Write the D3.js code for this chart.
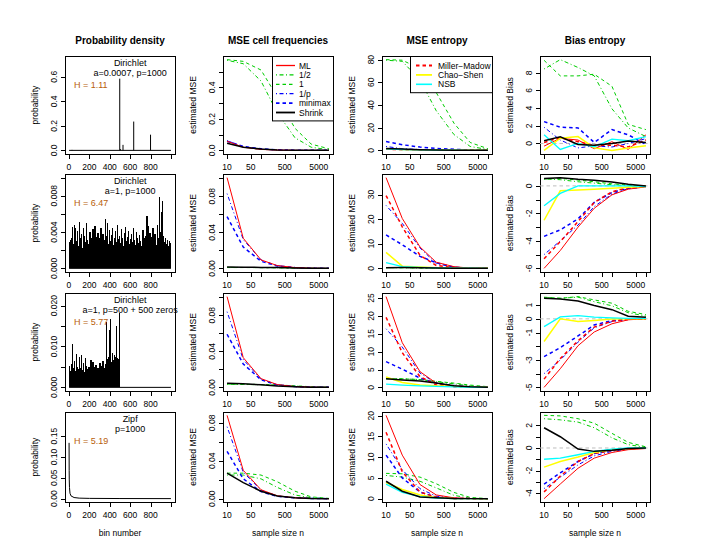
<!DOCTYPE html>
<html><head><meta charset="utf-8">
<script src="https://cdn.jsdelivr.net/npm/d3@7"></script>
<style>body{margin:0;background:#fff} text{font-family:"Liberation Sans",Arial,sans-serif}</style>
</head><body><svg id="c" width="713" height="539"></svg>
<script>
// ---------------- DATA ----------------
const sampleSizes = [10,30,100,300,1000,3000,10000];
const nTicks = [10,50,100,500,1000,5000,10000];
const nTickLabels = [10,50,500,5000];
const binTicks = [0,200,400,600,800,1000];
const binTickLabels = [0,200,400,600,800];
const colTitles = ["Probability density","MSE cell frequencies","MSE entropy","Bias entropy"];

// column 1 : densities
const spikeBinsR1 = [30,120,498,505,530,635,800];
const spikeValsR1 = [0.004,0.003,0.585,0.01,0.045,0.235,0.128];
const densR2 = [0.0029,0.0031,0.0034,0.0046,0.0027,0.0048,0.0044,0.0030,0.0041,0.0025,
  0.0051,0.0033,0.0038,0.0022,0.0045,0.0036,0.0029,0.0050,0.0031,0.0027,
  0.0040,0.0034,0.0024,0.0043,0.0030,0.0047,0.0028,0.0035,0.0039,0.0026,
  0.0033,0.0044,0.0029,0.0038,0.0031,0.0054,0.0036,0.0050,0.0027,0.0042,
  0.0030,0.0037,0.0045,0.0026,0.0034,0.0041,0.0029,0.0048,0.0032,0.0036,
  0.0028,0.0043,0.0033,0.0025,0.0039,0.0046,0.0030,0.0035,0.0041,0.0027,
  0.0032,0.0038,0.0029,0.0044,0.0031,0.0026,0.0040,0.0034,0.0028,0.0037,
  0.0030,0.0025,0.0042,0.0033,0.0029,0.0036,0.0058,0.0047,0.0031,0.0039,
  0.0027,0.0035,0.0044,0.0030,0.0038,0.0026,0.0048,0.0034,0.0079,0.0040,
  0.0062,0.0074,0.0036,0.0029,0.0033,0.0027,0.0031,0.0025,0.0030,0.0028];
const densR3 = [0.0052,0.0041,0.0058,0.0106,0.0047,0.0064,0.0039,0.0082,0.0051,0.0044,
  0.0075,0.0048,0.0080,0.0043,0.0060,0.0038,0.0071,0.0052,0.0046,0.0050,
  0.0041,0.0068,0.0045,0.0062,0.0037,0.0049,0.0055,0.0040,0.0047,0.0043,
  0.0060,0.0044,0.0052,0.0065,0.0048,0.0058,0.0160,0.0070,0.0075,0.0140,
  0.0167,0.0062,0.0085,0.0068,0.0078,0.0074,0.0150,0.0072,0.0069,0.0181];
const zipfBins = [1,2,3,5,10,20,50,100,200,500,1000];
const zipfVals = [0.134,0.067,0.045,0.027,0.013,0.0067,0.0027,0.0013,0.0007,0.0003,0.00013];
const densYMax = [0.74,0.0100,0.0222,0.2];
const densText = [["Dirichlet","a=0.0007, p=1000","H = 1.11"],
                  ["Dirichlet","a=1, p=1000","H = 6.47"],
                  ["Dirichlet","a=1, p=500 + 500 zeros","H = 5.77"],
                  ["Zipf","p=1000","H = 5.19"]];

// column 2 : MSE cell frequencies
const freqR1 = {ML:[0.058,0.02,0.006,0.002,0.0006,0.0002,0.00006],
  half:[0.572,0.55,0.44,0.24,0.08,0.02,0.004], one:[0.576,0.565,0.51,0.34,0.14,0.04,0.01],
  invp:[0.062,0.022,0.007,0.002,0.0007,0.0002,0.00007], minimax:[0.058,0.025,0.010,0.004,0.0012,0.0004,0.0001],
  shrink:[0.045,0.02,0.008,0.003,0.001,0.0003,0.0001]};
const freqR2 = {ML:[0.1007,0.0335,0.0095,0.0032,0.001,0.0003,0.0001],
  half:[0.0012,0.0011,0.001,0.0008,0.0005,0.0002,0.0001], one:[0.001,0.001,0.0009,0.0007,0.0005,0.0002,0.0001],
  invp:[0.083,0.032,0.0095,0.003,0.001,0.0003,0.0001], minimax:[0.0575,0.0237,0.008,0.0028,0.001,0.0003,0.0001],
  shrink:[0.0015,0.0014,0.0012,0.001,0.0006,0.0003,0.0001]};
const freqR3 = {ML:[0.1007,0.033,0.0098,0.0032,0.001,0.0003,0.0001],
  half:[0.0035,0.0033,0.003,0.0025,0.0015,0.0007,0.0002], one:[0.0038,0.0036,0.0033,0.0028,0.0018,0.0008,0.0003],
  invp:[0.084,0.031,0.009,0.003,0.001,0.0003,0.0001], minimax:[0.059,0.026,0.0085,0.0028,0.001,0.0003,0.0001],
  shrink:[0.0047,0.004,0.003,0.0017,0.0008,0.0003,0.0001]};
const freqR4 = {ML:[0.088,0.03,0.0095,0.0032,0.001,0.0003,0.0001],
  half:[0.025,0.025,0.021,0.012,0.004,0.001,0.0002], one:[0.027,0.027,0.025,0.018,0.008,0.002,0.0004],
  invp:[0.076,0.028,0.009,0.003,0.001,0.0003,0.0001], minimax:[0.05,0.021,0.0075,0.0026,0.0009,0.0003,0.0001],
  shrink:[0.027,0.017,0.008,0.003,0.001,0.0003,0.0001]};

// column 3 : MSE entropy
const entR1 = {ML:[1.2,0.8,0.5,0.3,0.2,0.1,0.05], half:[79.5,78.5,62,35,14,3.5,0.8], one:[80,79.5,72,51,24,7,1.5],
  invp:[3.5,1.5,0.8,0.5,0.3,0.2,0.1], minimax:[7.9,5,3,1.8,1,0.5,0.2], MM:[1.0,0.7,0.5,0.3,0.2,0.1,0.05],
  CS:[1.5,0.8,0.6,0.3,0.2,0.1,0.05], NSB:[1.3,0.8,0.4,0.3,0.2,0.1,0.05], shrink:[1.8,1.2,0.6,0.3,0.2,0.1,0.05]};
const entR2 = {ML:[36.9,20.3,8.7,2.5,0.7,0.1,0.02], half:[0.28,0.25,0.15,0.1,0.05,0.02,0.01], one:[0.3,0.3,0.2,0.1,0.05,0.02,0.01],
  invp:[25.6,18.3,8.3,2.0,0.5,0.1,0.02], minimax:[13.6,9.6,4.9,2.3,0.5,0.1,0.02], MM:[29.6,16.9,5.3,1.2,0.3,0.05,0.01],
  CS:[6.5,0.9,0.6,0.3,0.1,0.05,0.01], NSB:[2.3,0.7,0.4,0.2,0.1,0.05,0.01], shrink:[0.3,0.35,0.25,0.15,0.08,0.03,0.01]};
const entR3 = {ML:[25.4,12.5,4.4,1.2,0.3,0.05,0.01], half:[2.5,2.4,2.2,1.6,1.0,0.4,0.1], one:[2.4,2.4,2.2,1.7,1.2,0.65,0.2],
  invp:[16.4,11.3,4.0,1.2,0.3,0.05,0.01], minimax:[7.2,5.1,2.6,1.2,0.5,0.1,0.02], MM:[19.6,9.7,3.0,0.7,0.2,0.05,0.01],
  CS:[2.9,1.4,0.7,0.45,0.3,0.1,0.02], NSB:[0.9,0.65,0.45,0.3,0.15,0.05,0.01], shrink:[2.4,2.1,1.8,1.2,0.45,0.2,0.05]};
const entR4 = {ML:[20.1,10.5,3.4,0.9,0.2,0.03,0.005], half:[5.6,5.2,4.2,2.6,0.8,0.1,0.01], one:[6.1,6.0,5.2,3.6,1.5,0.3,0.02],
  invp:[13.2,7,2.4,0.6,0.12,0.02,0], minimax:[10.5,5,1.6,0.35,0.06,0.01,0], MM:[16,6.5,1.6,0.35,0.06,0.01,0],
  CS:[3.9,2.2,0.9,0.25,0.04,0.01,0], NSB:[3.5,1.5,0.5,0.15,0.03,0.01,0], shrink:[4.2,1.8,0.4,0.2,0.05,0.01,0]};

// column 4 : Bias entropy
const biasR1 = {ML:[-0.3,0.59,0.39,-0.59,0.2,-0.67,0.98], half:[8.43,9.49,8.6,7.65,3.92,1.76,0.78], one:[9.41,7.65,7.65,7.84,6.47,2.16,1.57],
  invp:[1.84,0.39,-0.5,-0.27,-0.4,0,0.55], minimax:[2.47,1.84,1.76,0.12,1.57,0.98,-0.12], MM:[0.12,0.67,0.2,-0.2,-0.2,-0.39,0.39],
  CS:[-0.78,0.59,0.78,-0.5,-0.78,-0.5,-0.27], NSB:[0.98,-0.67,0,-0.39,0.5,0.31,0.78], shrink:[0.31,0.75,-0.12,-0.2,0,0.27,0.12]};
const biasR2 = {ML:[-6.0,-4.7,-3.0,-1.63,-0.65,-0.24,-0.07], half:[0.5,0.45,0.3,0.2,0.08,0.03,0], one:[0.5,0.55,0.42,0.3,0.15,0.06,0],
  invp:[-5.0,-4.0,-2.85,-1.5,-0.6,-0.2,-0.05], minimax:[-3.67,-3.2,-2.4,-1.2,-0.48,-0.17,-0.05], MM:[-5.3,-4.05,-2.6,-1.2,-0.43,-0.12,-0.05],
  CS:[-2.5,-0.36,-0.3,-0.24,-0.17,-0.1,-0.05], NSB:[-1.44,-0.55,0,0,0,0,-0.05], shrink:[0.53,0.6,0.48,0.41,0.29,0.12,0]};
const biasR3 = {ML:[-5.0,-3.64,-1.96,-0.96,-0.36,-0.07,0], half:[1.55,1.5,1.58,1.25,0.95,0.45,0.2], one:[1.58,1.5,1.62,1.38,1.14,0.55,0.31],
  invp:[-4.0,-3.0,-1.7,-0.65,-0.2,-0.05,0], minimax:[-2.76,-2.1,-1.25,-0.45,-0.12,-0.03,0], MM:[-4.4,-2.9,-1.6,-0.6,-0.17,-0.04,0],
  CS:[-1.65,0,-0.2,-0.12,-0.02,0,0], NSB:[-0.57,0.14,0.24,0.12,0.07,0.03,0.03], shrink:[1.5,1.45,1.3,0.98,0.67,0.19,0.12]};
const biasR4 = {ML:[-4.5,-3.2,-1.8,-0.9,-0.4,-0.15,-0.05], half:[2.6,2.5,2.3,1.8,0.9,0.3,0.05], one:[2.9,2.85,2.6,2.2,1.3,0.5,0.1],
  invp:[-3.6,-2.6,-1.5,-0.7,-0.3,-0.1,0], minimax:[-3.2,-2.2,-1.2,-0.5,-0.2,-0.05,0], MM:[-3.9,-2.5,-1.2,-0.5,-0.2,-0.05,0],
  CS:[-1.7,-1.2,-0.8,-0.4,-0.15,-0.05,0], NSB:[-1,-0.9,-0.6,-0.3,-0.1,0,0], shrink:[1.8,1.0,-0.1,-0.3,-0.2,-0.05,0]};

// y ticks (values and labels)
const yTicksCol1 = [[0,0.2,0.4,0.6],[0,0.002,0.004,0.006,0.008,0.010],[0,0.005,0.010,0.015,0.020],[0,0.05,0.10,0.15]];
const yLabelsCol1 = [["0.0","0.2","0.4","0.6"],["0.000","","0.004","","0.008",""],["0.000","","0.010","","0.020"],["0.00","0.05","0.10","0.15"]];
const yTicksCol2 = [[0,0.1,0.2,0.3,0.4,0.5],[0,0.02,0.04,0.06,0.08,0.10],[0,0.02,0.04,0.06,0.08,0.10],[0,0.02,0.04,0.06,0.08]];
const yLabelsCol2 = [["0.0","","0.2","","0.4",""],["0.00","","0.04","","0.08",""],["0.00","","0.04","","0.08",""],["0.00","","0.04","","0.08"]];
const yTicksCol3 = [[0,20,40,60,80],[0,10,20,30],[0,5,10,15,20,25],[0,5,10,15,20]];
const yLabelsCol3 = [["0","20","40","60","80"],["0","10","20","30"],["0","5","10","15","20","25"],["0","5","10","15","20"]];
const yTicksCol4 = [[0,2,4,6,8],[-6,-5,-4,-3,-2,-1,0],[-5,-4,-3,-2,-1,0,1],[-4,-3,-2,-1,0,1,2]];
const yLabelsCol4 = [["0","2","4","6","8"],["-6","","-4","","-2","","0"],["-5","","-3","","-1","0","1"],["-4","","-2","","0","","2"]];

// ---------------- STYLE / LAYOUT ----------------
const style = {
  ML:{c:"#FF0000",d:null,w:1, name:"ML"},
  half:{c:"#00CD00",d:"1,2.5,4,2.5",w:1, name:"1/2"},
  one:{c:"#00CD00",d:"3.5,3",w:1, name:"1"},
  invp:{c:"#0000FF",d:"1,2.5,4,2.5",w:1, name:"1/p"},
  minimax:{c:"#0000FF",d:"3.5,3",w:1.5, name:"minimax"},
  shrink:{c:"#000000",d:null,w:1.5, name:"Shrink"},
  MM:{c:"#FF0000",d:"3.5,3",w:1.5, name:"Miller\u2212Madow"},
  CS:{c:"#FFFF00",d:null,w:1.5, name:"Chao\u2212Shen"},
  NSB:{c:"#00FFFF",d:null,w:1.3, name:"NSB"}
};
const drawOrder = ["half","one","invp","minimax","ML","MM","CS","NSB","shrink"];
const colL = [65,223,382,540], W = 110;
const rowT = [56,174,293,412], rowH = [98,98,98,90];
const fs = 8.5;

const svg = d3.select("#c");

function ext(lo,hi){const e=(hi-lo)*0.04;return [lo-e,hi+e];}

function frame(ri,ci,x,y,xt,xl,yt,yl,ylab){
  const L=colL[ci],T=rowT[ri],H=rowH[ri],B=T+H;
  const g=svg.append("g");
  g.append("rect").attr("x",L+0.5).attr("y",T+0.5).attr("width",W).attr("height",H)
    .attr("fill","none").attr("stroke","#000").attr("stroke-width",1);
  xt.forEach(v=>{const px=Math.round(x(v))+0.5;
    g.append("line").attr("x1",px).attr("x2",px).attr("y1",B+0.5).attr("y2",B+5).attr("stroke","#000");});
  xl.forEach(v=>{g.append("text").attr("x",x(v)).attr("y",B+16).attr("text-anchor","middle")
    .attr("font-size",fs).text(v);});
  yt.forEach((v,i)=>{const py=Math.round(y(v))+0.5;
    g.append("line").attr("x1",L+0.5).attr("x2",L-4).attr("y1",py).attr("y2",py).attr("stroke","#000");
    if(yl[i]) g.append("text").attr("transform",`translate(${L-8},${y(v)}) rotate(-90)`)
      .attr("text-anchor","middle").attr("font-size",fs).text(yl[i]);});
  g.append("text").attr("transform",`translate(${L-27},${T+H/2}) rotate(-90)`)
    .attr("text-anchor","middle").attr("font-size",fs).text(ylab);
  return g;
}

// column titles
colTitles.forEach((t,i)=>svg.append("text").attr("x",colL[i]+W/2).attr("y",44)
  .attr("text-anchor","middle").attr("font-size",10).attr("font-weight","bold").text(t));

// ---- column 1
const densBinsR2 = d3.range(5,1000,10);
const densBinsR3 = d3.range(5,500,10);
for(let r=0;r<4;r++){
  const L=colL[0],T=rowT[r],H=rowH[r];
  const x=d3.scaleLinear().domain(ext(1,1000)).range([L,L+W]);
  const y=d3.scaleLinear().domain(ext(0,densYMax[r])).range([T+H,T]);
  const g=frame(r,0,x,y,binTicks,binTickLabels,yTicksCol1[r],yLabelsCol1[r],"probability");
  const line=d3.line().x(d=>x(d[0])).y(d=>y(d[1]));
  if(r<3){
    g.append("path").attr("d",line([[1,0],[1000,0]])).attr("stroke","#000").attr("fill","none").attr("stroke-width",1);
  }
  let bins=[],vals=[];
  if(r===0){bins=spikeBinsR1;vals=spikeValsR1;}
  if(r===1){bins=densBinsR2;vals=densR2;}
  if(r===2){bins=densBinsR3;vals=densR3;}
  bins.forEach((b,i)=>g.append("line").attr("x1",x(b)).attr("x2",x(b)).attr("y1",y(0)).attr("y2",y(vals[i]))
     .attr("stroke","#000").attr("stroke-width",r===0?1:1.3).attr("shape-rendering",r===0?"auto":"crispEdges"));
  if(r===3){
    g.append("path").attr("d",line(zipfBins.map((b,i)=>[b,zipfVals[i]]))).attr("stroke","#000").attr("fill","none").attr("stroke-width",1);
  }
  const t=densText[r];
  g.append("text").attr("x",x(600)).attr("y",T+9.5).attr("text-anchor","middle").attr("font-size",9).text(t[0]);
  g.append("text").attr("x",x(600)).attr("y",T+19.5).attr("text-anchor","middle").attr("font-size",9).text(t[1]);
  g.append("text").attr("x",L+9).attr("y",T+32).attr("font-size",9).attr("fill","#B8600A").text(t[2]);
  if(r===3) g.append("text").attr("x",L+W/2).attr("y",536).attr("text-anchor","middle").attr("font-size",fs).text("bin number");
}

// ---- columns 2-4
const panels = [[freqR1,freqR2,freqR3,freqR4],[entR1,entR2,entR3,entR4],[biasR1,biasR2,biasR3,biasR4]];
const yTicksAll=[yTicksCol2,yTicksCol3,yTicksCol4], yLabelsAll=[yLabelsCol2,yLabelsCol3,yLabelsCol4];
const yNames=["estimated MSE","estimated MSE","estimated Bias"];
for(let c=1;c<4;c++){
  for(let r=0;r<4;r++){
    const L=colL[c],T=rowT[r],H=rowH[r];
    const data=panels[c-1][r];
    const keys=drawOrder.filter(k=>data[k]);
    const all=keys.flatMap(k=>data[k]);
    const x=d3.scaleLog().domain([10**(1-0.12),10**(4+0.12)]).range([L,L+W]);
    const y=d3.scaleLinear().domain(ext(d3.min(all),d3.max(all))).range([T+H,T]);
    const g=frame(r,c,x,y,nTicks,nTickLabels,yTicksAll[c-1][r],yLabelsAll[c-1][r],yNames[c-1]);
    if(c===3){
      g.append("line").attr("x1",L).attr("x2",L+W).attr("y1",y(0)).attr("y2",y(0))
       .attr("stroke","#BEBEBE").attr("stroke-dasharray","3.5,3").attr("stroke-width",1);
    }
    const line=d3.line().x((d,i)=>x(sampleSizes[i])).y(d=>y(d));
    keys.forEach(k=>{const s=style[k];
      g.append("path").attr("d",line(data[k])).attr("fill","none").attr("stroke",s.c)
       .attr("stroke-width",s.w).attr("stroke-dasharray",s.d);});
    if(r===3) g.append("text").attr("x",L+W/2).attr("y",536).attr("text-anchor","middle").attr("font-size",fs).text("sample size n");
  }
}

// legends
function legend(x0,y0,x1,keys,dy,segL,segR,txtX){
  const g=svg.append("g");
  g.append("rect").attr("x",x0+0.5).attr("y",y0+0.5).attr("width",x1-x0).attr("height",keys.length*dy+8)
   .attr("fill","#fff").attr("stroke","#000");
  keys.forEach((k,i)=>{const s=style[k],yy=y0+9.5+i*dy;
    g.append("line").attr("x1",segL).attr("x2",segR).attr("y1",yy).attr("y2",yy).attr("stroke",s.c)
     .attr("stroke-width",s.w+0.3).attr("stroke-dasharray",s.d);
    g.append("text").attr("x",txtX).attr("y",yy+3).attr("font-size",fs).text(s.name);});
}
legend(272,rowT[0],colL[1]+W,["ML","half","one","invp","minimax","shrink"],9.4,276,295,299);
legend(410,rowT[0],colL[2]+W,["MM","CS","NSB"],9.4,416,432,438);
</script></body></html>
